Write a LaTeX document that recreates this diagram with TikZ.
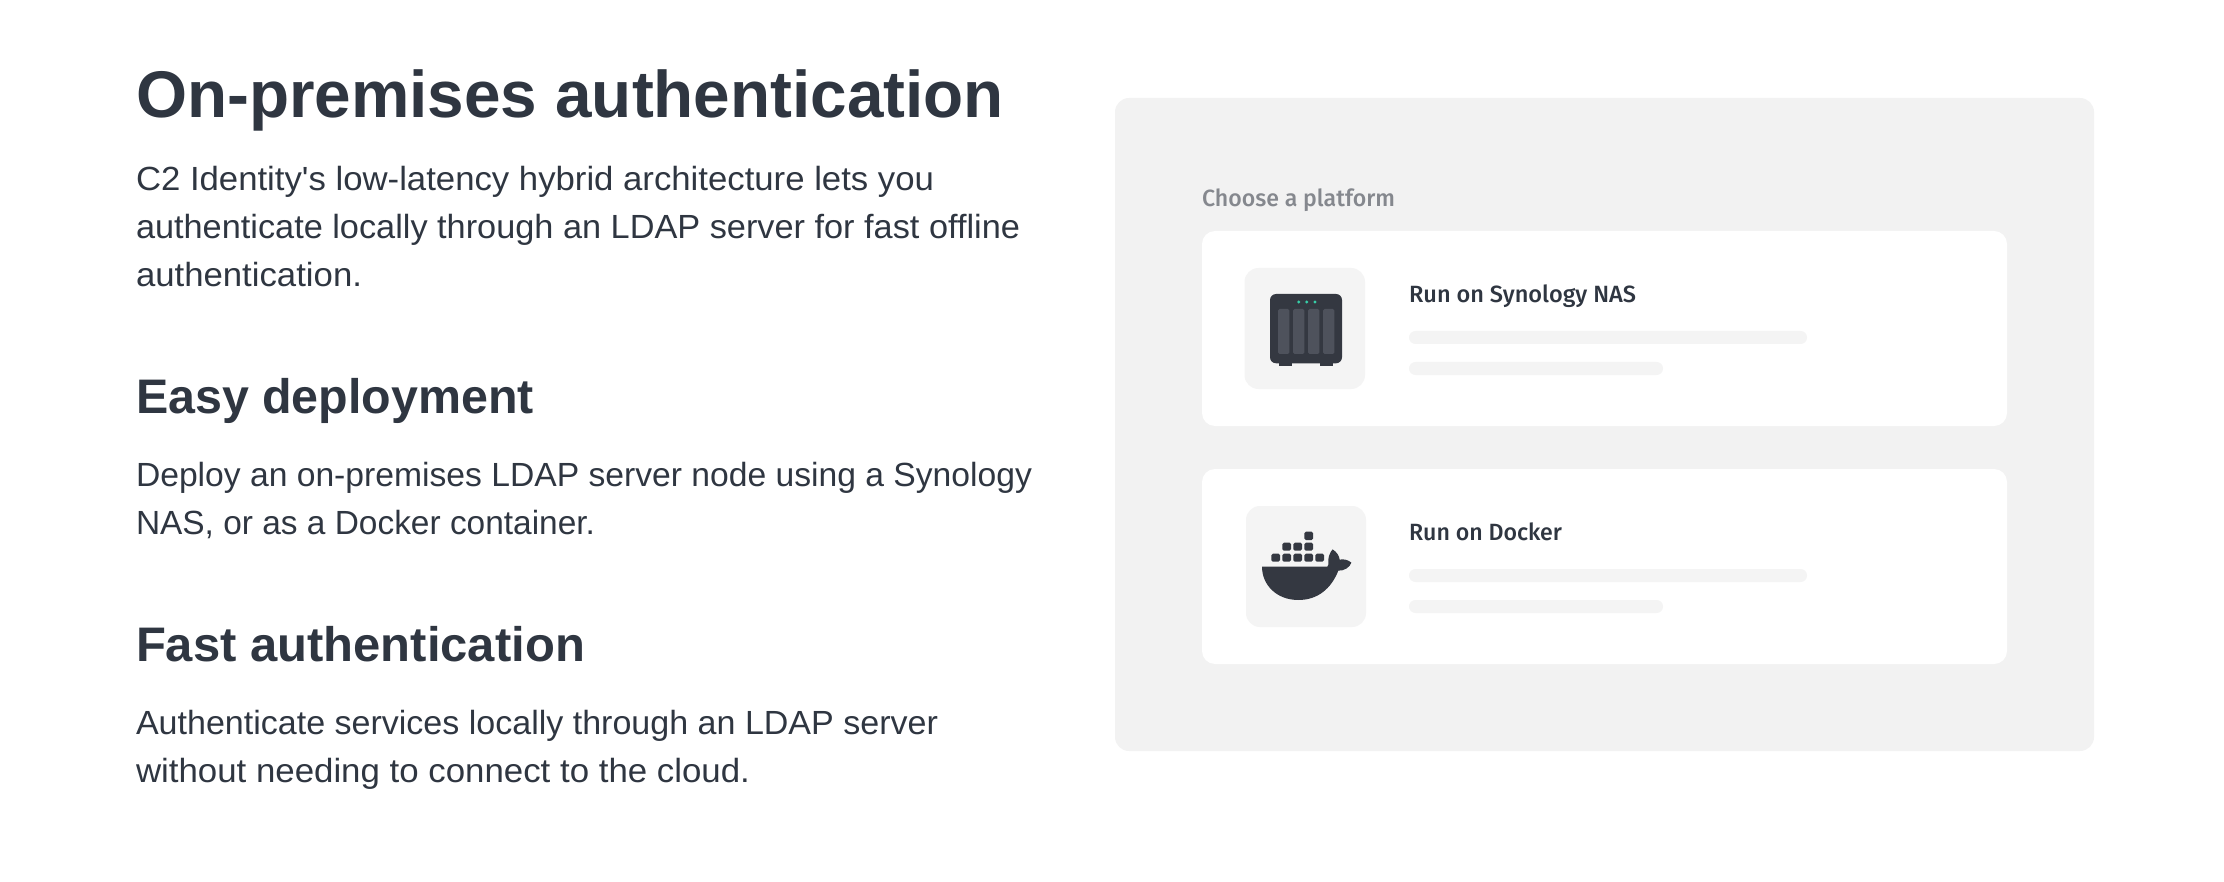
\documentclass[tikz,border=0pt]{standalone}
\usepackage{fontspec}
\usepackage{graphicx}
\newfontfamily\basefont{Liberation Sans}
\newfontfamily\medfont{Fira Sans Medium}
\definecolor{ink}{HTML}{2F3641}
\definecolor{mutedink}{HTML}{85888E}
\definecolor{panelbg}{HTML}{F2F2F2}
\definecolor{softbg}{HTML}{F4F4F4}
\definecolor{devicebody}{HTML}{343841}
\definecolor{devicebay}{HTML}{4E525C}
\definecolor{ledgreen}{HTML}{36CFA8}
\newcommand{\fitline}[2]{\resizebox{#1pt}{\height}{\strut #2}}
\tikzset{
  txt/.style={anchor=base west,inner sep=0pt,outer sep=0pt,text=ink},
  titletxt/.style={txt,font=\fontsize{66}{66}\selectfont\basefont\bfseries},
  headtxt/.style={txt,font=\fontsize{48.5}{48.5}\selectfont\basefont\bfseries},
  bodytxt/.style={txt,font=\fontsize{33.5}{33.5}\selectfont\basefont},
  smalltxt/.style={txt,font=\fontsize{23.5}{23.5}\selectfont\medfont},
  panelbox/.style={fill=panelbg,rounded corners=14pt},
  cardbox/.style={fill=white,rounded corners=13pt},
  iconbox/.style={fill=softbg,rounded corners=14pt},
  barbox/.style={fill=softbg,rounded corners=6.5pt},
  baybox/.style={fill=devicebay,rounded corners=1.5pt},
  cargo/.style={fill=devicebody,rounded corners=1.5pt},
}
\begin{document}
\begin{tikzpicture}[x=1pt,y=-1pt]
\useasboundingbox (0,0) rectangle (2224,882);
% left column
\node[titletxt] (title) at (136,118) {\fitline{868}{On-premises authentication}};
\node[bodytxt] (intro1) at (136,190.5) {\fitline{798}{C2 Identity's low-latency hybrid architecture lets you}};
\node[bodytxt] (intro2) at (136,238.5) {\fitline{884}{authenticate locally through an LDAP server for fast offline}};
\node[bodytxt] (intro3) at (136,286.5) {\fitline{226}{authentication.}};
\node[headtxt] (easy) at (136,413.5) {\fitline{398}{Easy deployment}};
\node[bodytxt] (deploy1) at (136,486.3) {\fitline{896}{Deploy an on-premises LDAP server node using a Synology}};
\node[bodytxt] (deploy2) at (136,534.3) {\fitline{459}{NAS, or as a Docker container.}};
\node[headtxt] (fast) at (136,661.5) {\fitline{449}{Fast authentication}};
\node[bodytxt] (auth1) at (136,734.3) {\fitline{802}{Authenticate services locally through an LDAP server}};
\node[bodytxt] (auth2) at (136,782.3) {\fitline{614}{without needing to connect to the cloud.}};
% panel
\path[panelbox] (1115,98) rectangle (2094,751);
\node[smalltxt,text=mutedink] (choose) at (1202,206.3) {\fitline{193}{Choose a platform}};
\path[cardbox] (1202,231) rectangle (2007,426);
\path[cardbox] (1202,469) rectangle (2007,664);
% card 1
\path[iconbox] (1244.5,268) rectangle (1365,389);
\fill[devicebody] (1279.3,360) rectangle (1291.7,366);
\fill[devicebody] (1320.3,360) rectangle (1332.7,366);
\path[fill=devicebody,rounded corners=6pt] (1270,294) rectangle (1342,363.3);
\foreach \bx in {1278,1293,1308,1323}
  \path[baybox] (\bx,309) rectangle (\bx+11.3,354);
\foreach \lx in {1298.7,1306.7,1315}
  \fill[ledgreen] (\lx,302) circle (1.6);
\node[smalltxt] (run1) at (1409,303) {\fitline{227}{Run on Synology NAS}};
\path[barbox] (1409,331) rectangle (1807,344);
\path[barbox] (1409,362) rectangle (1663,375);
% card 2
\path[iconbox] (1246,506) rectangle (1366,627);
\begin{scope}[shift={(1190,460)},x=0.33333pt,y=-0.33333pt]
  \foreach \cx in {244,277,310,343,376}
    \path[cargo] (\cx,281) rectangle (\cx+26,305);
  \foreach \cx in {277,310,343}
    \path[cargo] (\cx,248) rectangle (\cx+26,272);
  \path[cargo] (343,215) rectangle (369,240);
  \fill[devicebody] (216,320) -- (412,320)
    .. controls (418,315) and (413,298) .. (417,288)
    .. controls (420,278) and (424,272) .. (428,268)
    .. controls (441,277) and (448,288) .. (449,299)
    .. controls (460,296) and (476,300) .. (484,308)
    .. controls (480,322) and (462,333) .. (445,332)
    .. controls (424,385) and (384,420) .. (325,420)
    .. controls (260,420) and (216,375) .. (216,320) -- cycle;
\end{scope}
\node[smalltxt] (run2) at (1409,540.5) {\fitline{153}{Run on Docker}};
\path[barbox] (1409,569) rectangle (1807,582);
\path[barbox] (1409,600) rectangle (1663,613);
\end{tikzpicture}
\end{document}
